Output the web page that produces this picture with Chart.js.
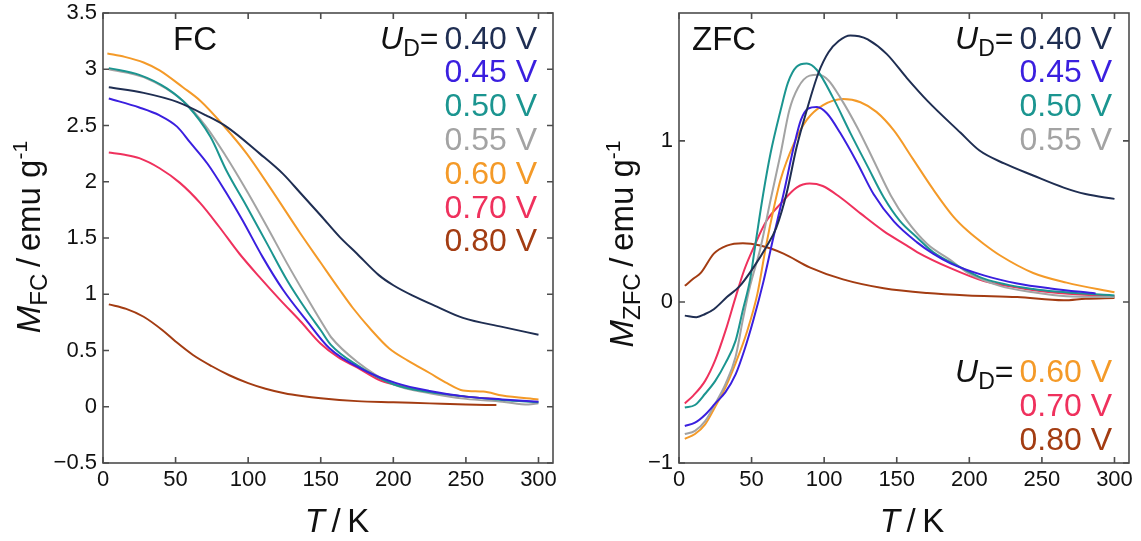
<!DOCTYPE html>
<html>
<head>
<meta charset="utf-8">
<script src="https://cdn.jsdelivr.net/npm/chart.js@4.4.0/dist/chart.umd.min.js"></script>
<style>
  body { margin: 0; background: #fff; width: 1141px; height: 541px; overflow: hidden; }
  canvas { position: absolute; top: 0; }
  #fcChart { left: 0; }
  #zfcChart { left: 570px; }
</style>
</head>
<body>
<canvas id="fcChart" width="570" height="541"></canvas>
<canvas id="zfcChart" width="571" height="541"></canvas>
<script>
// deposition voltages and their line colours
const voltages = ["0.40 V", "0.45 V", "0.50 V", "0.55 V", "0.60 V", "0.70 V", "0.80 V"];
const colors = ["#1f2e52", "#3a1fdf", "#1b9590", "#a3a3a3", "#f49a28", "#ef315d", "#a33c12"];

// field-cooled magnetisation, [T (K), M (emu/g)]
const fc040 = [[4,2.84],[28,2.79],[51,2.71],[71,2.59],[85,2.49],[108,2.25],[124,2.07],[136,1.90],[150,1.70],[163,1.51],[175,1.36],[190,1.17],[200,1.08],[213,0.99],[230,0.89],[248,0.79],[275,0.71],[300,0.64]];
const fc045 = [[4,2.74],[25,2.66],[39,2.59],[51,2.49],[60,2.35],[72,2.16],[85,1.90],[96,1.66],[110,1.33],[124,1.04],[140,0.77],[156,0.52],[179,0.33],[202,0.21],[225,0.14],[250,0.09],[275,0.065],[300,0.045]];
const fc050 = [[4,3.01],[25,2.95],[44,2.83],[58,2.68],[74,2.40],[85,2.10],[99,1.78],[113,1.45],[127,1.12],[140,0.86],[150,0.68],[157,0.55],[175,0.37],[200,0.20],[225,0.13],[250,0.09],[275,0.06],[300,0.04]];
const fc055 = [[4,3.00],[28,2.93],[55,2.72],[71,2.49],[85,2.22],[99,1.92],[113,1.60],[127,1.27],[140,0.98],[154,0.68],[157,0.62],[175,0.40],[200,0.20],[225,0.12],[250,0.07],[275,0.045],[293,0.02],[300,0.03]];
const fc060 = [[3,3.14],[15,3.11],[28,3.06],[39,2.99],[55,2.84],[67,2.72],[83,2.50],[99,2.25],[115,1.95],[136,1.54],[150,1.28],[163,1.04],[172,0.88],[185,0.68],[197,0.52],[210,0.41],[225,0.30],[237,0.21],[248,0.145],[262,0.135],[275,0.10],[300,0.065]];
const fc070 = [[4,2.26],[15,2.24],[25,2.21],[39,2.12],[53,1.99],[67,1.81],[80,1.60],[94,1.36],[108,1.15],[122,0.95],[136,0.76],[150,0.56],[162,0.44],[175,0.35],[190,0.24],[200,0.20],[225,0.13],[250,0.09],[271,0.07]];
const fc080 = [[4,0.91],[16,0.87],[28,0.80],[41,0.68],[50,0.58],[62,0.46],[75,0.36],[87,0.28],[100,0.21],[112,0.16],[125,0.12],[137,0.095],[150,0.075],[175,0.05],[200,0.04],[225,0.03],[250,0.02],[271,0.015]];

// zero-field-cooled magnetisation, [T (K), M (emu/g)]
const zfc040 = [[4,-0.085],[12,-0.095],[18,-0.075],[24,-0.045],[33,0.03],[42,0.10],[51,0.21],[60,0.34],[67,0.46],[74,0.67],[81,0.96],[88,1.19],[96,1.42],[103,1.55],[110,1.62],[118,1.655],[124,1.65],[130,1.63],[143,1.54],[157,1.39],[171,1.25],[194,1.05],[207,0.94],[224,0.86],[244,0.785],[265,0.71],[280,0.67],[300,0.64]];
const zfc045 = [[4,-0.77],[11,-0.75],[18,-0.70],[25,-0.63],[32,-0.56],[39,-0.45],[45,-0.30],[51,-0.12],[58,0.12],[65,0.40],[72,0.67],[79,0.96],[84,1.13],[89,1.20],[95,1.21],[102,1.17],[111,1.05],[123,0.86],[134,0.67],[148,0.50],[164,0.37],[175,0.30],[187,0.24],[210,0.165],[233,0.115],[256,0.084],[287,0.053]];
const zfc050 = [[4,-0.655],[11,-0.64],[18,-0.57],[25,-0.49],[32,-0.38],[39,-0.24],[44,-0.05],[49,0.14],[53,0.38],[58,0.67],[63,0.92],[70,1.19],[75,1.36],[81,1.46],[88,1.48],[95,1.44],[106,1.27],[118,1.05],[130,0.84],[141,0.65],[152,0.505],[164,0.40],[175,0.31],[194,0.215],[210,0.145],[244,0.08],[300,0.04]];
const zfc055 = [[4,-0.82],[11,-0.80],[18,-0.74],[25,-0.63],[32,-0.51],[39,-0.34],[44,-0.11],[49,0.10],[56,0.33],[63,0.63],[70,0.92],[76,1.19],[82,1.33],[90,1.405],[96,1.41],[103,1.375],[111,1.27],[123,1.08],[134,0.88],[146,0.66],[157,0.505],[171,0.36],[187,0.26],[199,0.18],[221,0.10],[244,0.06],[267,0.035],[300,0.03]];
const zfc060 = [[4,-0.85],[11,-0.82],[18,-0.76],[25,-0.65],[32,-0.53],[39,-0.38],[47,-0.18],[54,0.05],[60,0.35],[65,0.57],[70,0.76],[79,0.98],[88,1.13],[99,1.22],[113,1.26],[125,1.24],[136,1.18],[148,1.065],[161,0.89],[175,0.70],[189,0.53],[199,0.44],[210,0.36],[221,0.29],[244,0.18],[267,0.12],[300,0.06]];
const zfc070 = [[4,-0.63],[10,-0.58],[18,-0.49],[25,-0.36],[32,-0.18],[39,0.03],[45,0.20],[52,0.35],[60,0.50],[70,0.61],[81,0.71],[90,0.735],[99,0.72],[111,0.65],[125,0.55],[141,0.44],[157,0.35],[164,0.31],[187,0.21],[210,0.13],[233,0.09],[256,0.06],[300,0.035]];
const zfc080 = [[4,0.10],[10,0.145],[15,0.18],[24,0.30],[33,0.35],[44,0.365],[56,0.35],[72,0.30],[90,0.215],[113,0.14],[141,0.085],[171,0.055],[199,0.04],[233,0.03],[265,0.01],[280,0.02],[300,0.025]];

const fcSeries = [fc040, fc045, fc050, fc055, fc060, fc070, fc080];
const zfcSeries = [zfc040, zfc045, zfc050, zfc055, zfc060, zfc070, zfc080];

const FONT = "'Liberation Sans', Arial, sans-serif";

function minusLabel(v) {
  return String(Math.round(v * 10) / 10).replace("-", "\u2212");
}

// draw a row of text pieces with different fonts, returns the end x
function drawRuns(ctx, parts, x, y) {
  parts.forEach(p => {
    ctx.font = p.font;
    ctx.fillStyle = p.color || "#111";
    ctx.fillText(p.text, x, y + (p.dy || 0));
    x += ctx.measureText(p.text).width;
  });
  return x;
}
function runsWidth(ctx, parts) {
  let w = 0;
  parts.forEach(p => { ctx.font = p.font; w += ctx.measureText(p.text).width; });
  return w;
}

// frame with inward ticks on all four sides
const frameTicks = {
  id: "frameTicks",
  afterDatasetsDraw(chart) {
    const { ctx, chartArea: a, scales } = chart;
    const len = 6;
    ctx.save();
    ctx.strokeStyle = "#4d4d4d";
    ctx.lineWidth = 1.6;
    ctx.beginPath();
    scales.x.ticks.forEach(t => {
      const px = scales.x.getPixelForValue(t.value);
      ctx.moveTo(px, a.bottom); ctx.lineTo(px, a.bottom - len);
      ctx.moveTo(px, a.top); ctx.lineTo(px, a.top + len);
    });
    scales.y.ticks.forEach(t => {
      const py = scales.y.getPixelForValue(t.value);
      ctx.moveTo(a.left, py); ctx.lineTo(a.left + len, py);
      ctx.moveTo(a.right, py); ctx.lineTo(a.right - len, py);
    });
    ctx.stroke();
    ctx.strokeRect(a.left, a.top, a.right - a.left, a.bottom - a.top);
    ctx.restore();
  }
};

// panel name, axis titles and the voltage key
const panelText = {
  id: "panelText",
  afterDraw(chart, args, opts) {
    const { ctx, chartArea: a } = chart;
    ctx.save();
    ctx.textBaseline = "alphabetic";
    ctx.textAlign = "left";

    ctx.font = `33px ${FONT}`;
    ctx.fillStyle = "#111";
    ctx.fillText(opts.name, opts.nameX, 49.5);

    // x title
    const xParts = [
      { text: "T", font: `italic 33px ${FONT}` },
      { text: "\u2009/\u2009K", font: `33px ${FONT}` }
    ];
    drawRuns(ctx, xParts, opts.xTitleX - runsWidth(ctx, xParts) / 2, 531.5);

    // y title, rotated
    const yParts = [
      { text: "M", font: `italic 33px ${FONT}` },
      { text: opts.sub, font: `24px ${FONT}`, dy: 7 },
      { text: "\u2009/\u2009emu g", font: `33px ${FONT}` },
      { text: "-1", font: `21px ${FONT}`, dy: -13 }
    ];
    ctx.save();
    ctx.translate(opts.yTitleX, opts.yTitleY);
    ctx.rotate(-Math.PI / 2);
    drawRuns(ctx, yParts, -runsWidth(ctx, yParts) / 2, 0);
    ctx.restore();

    // voltage key
    const step = 33.8;
    opts.groups.forEach(g => {
      g.items.forEach((idx, k) => {
        const y = g.y + k * step;
        ctx.font = `32px ${FONT}`;
        ctx.fillStyle = colors[idx];
        ctx.textAlign = "right";
        ctx.fillText(voltages[idx], opts.keyX, y);
        ctx.textAlign = "left";
        if (k === 0) {
          ctx.font = `32px ${FONT}`;
          const wv = ctx.measureText(voltages[idx]).width;
          const pre = [
            { text: "U", font: `italic 32px ${FONT}` },
            { text: "D", font: `23px ${FONT}`, dy: 7 },
            { text: "=", font: `32px ${FONT}` }
          ];
          drawRuns(ctx, pre, opts.keyX - wv - 6 - runsWidth(ctx, pre), y);
        }
      });
    });
    ctx.restore();
  }
};

function makeDatasets(series) {
  return series.map((s, i) => ({
    label: voltages[i],
    data: s.map(([x, y]) => ({ x, y })),
    borderColor: colors[i],
    borderWidth: 2,
    pointRadius: 0,
    fill: false,
    cubicInterpolationMode: "monotone"
  }));
}

function makeOptions(yMin, yMax, yStep, yWidth, padRight, text) {
  return {
    responsive: false,
    animation: false,
    devicePixelRatio: 1,
    layout: { padding: { top: 13, right: padRight, left: 0, bottom: 0 } },
    plugins: { legend: { display: false }, tooltip: { enabled: false }, panelText: text },
    scales: {
      x: {
        type: "linear",
        min: 0,
        max: 310,
        grid: { drawOnChartArea: false, drawTicks: false },
        border: { display: false },
        afterFit: s => { s.height = 78; s.paddingLeft = 0; s.paddingRight = 0; },
        ticks: {
          stepSize: 50,
          includeBounds: false,
          padding: 4,
          color: "#111",
          font: { family: FONT, size: 22 },
          maxRotation: 0
        }
      },
      y: {
        type: "linear",
        min: yMin,
        max: yMax,
        grid: { drawOnChartArea: false, drawTicks: false },
        border: { display: false },
        afterFit: s => { s.width = yWidth; s.paddingTop = 0; s.paddingBottom = 0; },
        ticks: {
          stepSize: yStep,
          includeBounds: false,
          padding: 6,
          color: "#111",
          font: { family: FONT, size: 22 },
          callback: v => minusLabel(v)
        }
      }
    }
  };
}

new Chart(document.getElementById("fcChart").getContext("2d"), {
  type: "line",
  data: { datasets: makeDatasets(fcSeries) },
  options: makeOptions(-0.5, 3.5, 0.5, 103, 17, {
    name: "FC", nameX: 173, xTitleX: 337, yTitleX: 40, yTitleY: 237, sub: "FC", keyX: 537,
    groups: [{ y: 48.5, items: [0, 1, 2, 3, 4, 5, 6] }]
  }),
  plugins: [frameTicks, panelText]
});

new Chart(document.getElementById("zfcChart").getContext("2d"), {
  type: "line",
  data: { datasets: makeDatasets(zfcSeries) },
  options: makeOptions(-1, 1.794, 1, 109, 12, {
    name: "ZFC", nameX: 122, xTitleX: 342, yTitleX: 63, yTitleY: 244, sub: "ZFC", keyX: 542,
    groups: [{ y: 48.5, items: [0, 1, 2, 3] }, { y: 382, items: [4, 5, 6] }]
  }),
  plugins: [frameTicks, panelText]
});
</script>
</body>
</html>
